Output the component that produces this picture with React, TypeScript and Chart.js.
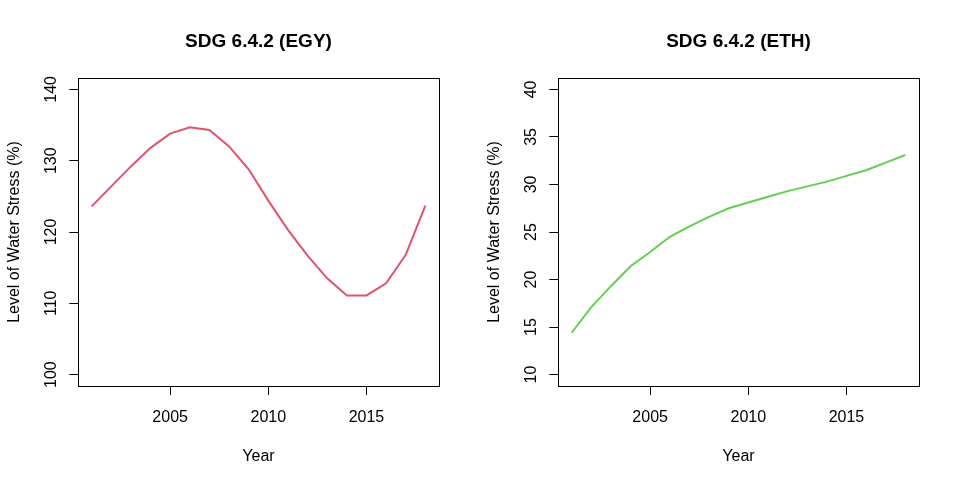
import { useEffect, useRef } from 'react';
import { Chart, registerables } from 'chart.js';

Chart.register(...registerables);

// Water stress by year
const years = [2001, 2002, 2003, 2004, 2005, 2006, 2007, 2008, 2009, 2010, 2011, 2012, 2013, 2014, 2015, 2016, 2017, 2018];
const egyStress = [123.6, 126.4, 129.2, 131.8, 133.8, 134.7, 134.3, 132.0, 128.8, 124.4, 120.3, 116.7, 113.5, 111.1, 111.1, 112.8, 116.8, 123.7];
const ethStress = [14.4, 17.1, 19.3, 21.4, 22.9, 24.5, 25.6, 26.6, 27.5, 28.1, 28.7, 29.3, 29.8, 30.3, 30.9, 31.5, 32.3, 33.1];

const yearTicks = [2005, 2010, 2015];
const egyTicks = [100, 110, 120, 130, 140];
const ethTicks = [10, 15, 20, 25, 30, 35, 40];

const FONT = '"Liberation Sans", Arial, Helvetica, sans-serif';

// R-style axis range: 4% extra at both ends
function padRange(lo: number, hi: number) {
  const d = (hi - lo) * 0.04;
  return { min: lo - d, max: hi + d };
}

const rFrame = {
  id: 'rFrame',
  afterDraw(chart: any, _args: any, opts: any) {
    const { ctx, chartArea: a, scales } = chart;
    const cx = (a.left + a.right) / 2;
    const cy = (a.top + a.bottom) / 2;
    ctx.save();

    // box round the plot region
    ctx.strokeStyle = '#000';
    ctx.lineWidth = 1;
    const l = Math.round(a.left) + 0.5;
    const t = Math.round(a.top) + 0.5;
    const r = Math.round(a.right) + 0.5;
    const b = Math.round(a.bottom) + 0.5;
    ctx.strokeRect(l, t, r - l, b - t);

    ctx.fillStyle = '#000';
    ctx.textBaseline = 'alphabetic';
    ctx.textAlign = 'center';

    // title
    ctx.font = `bold 19px ${FONT}`;
    ctx.fillText(opts.title, cx, 47);

    // x tick labels and axis title
    ctx.font = `16px ${FONT}`;
    for (const v of opts.xTicks) {
      ctx.fillText(String(v), scales.x.getPixelForValue(v), a.bottom + 35.5);
    }
    ctx.fillText('Year', cx, a.bottom + 74.5);

    // y tick labels, rotated like R's las = 0
    for (const v of opts.yTicks) {
      ctx.save();
      ctx.translate(a.left - 22.3, scales.y.getPixelForValue(v));
      ctx.rotate(-Math.PI / 2);
      ctx.fillText(String(v), 0, 0);
      ctx.restore();
    }
    ctx.save();
    ctx.translate(a.left - 59.3, cy);
    ctx.rotate(-Math.PI / 2);
    ctx.fillText('Level of Water Stress (%)', 0, 0);
    ctx.restore();

    ctx.restore();
  },
};

interface PanelProps {
  title: string;
  values: number[];
  color: string;
  yTicks: number[];
  left: number;
  width: number;
}

function Panel({ title, values, color, yTicks, left, width }: PanelProps) {
  const canvasRef = useRef<HTMLCanvasElement>(null);
  const chartRef = useRef<Chart | null>(null);

  useEffect(() => {
    if (!canvasRef.current) return;
    if (chartRef.current) chartRef.current.destroy();

    const xRange = padRange(years[0], years[years.length - 1]);
    const yRange = padRange(yTicks[0], yTicks[yTicks.length - 1]);

    chartRef.current = new Chart(canvasRef.current, {
      type: 'line',
      data: {
        datasets: [
          {
            data: years.map((y, i) => ({ x: y, y: values[i] })),
            borderColor: color,
            borderWidth: 2,
            pointRadius: 0,
            tension: 0,
            fill: false,
          },
        ],
      },
      options: {
        responsive: false,
        animation: false,
        devicePixelRatio: 1,
        layout: { padding: { left: 0, right: width - 438.7, top: 78, bottom: 0 } },
        plugins: {
          legend: { display: false },
          tooltip: { enabled: false },
          // @ts-ignore
          rFrame: { title, xTicks: yearTicks, yTicks },
        },
        scales: {
          x: {
            type: 'linear',
            min: xRange.min,
            max: xRange.max,
            afterBuildTicks: (s: any) => {
              s.ticks = yearTicks.map(v => ({ value: v }));
            },
            afterFit: (s: any) => {
              s.height = 98;
            },
            ticks: { display: false },
            grid: { display: true, drawOnChartArea: false, drawTicks: true, tickLength: 9, color: '#000', lineWidth: 1 },
            border: { display: false },
          },
          y: {
            type: 'linear',
            min: yRange.min,
            max: yRange.max,
            afterBuildTicks: (s: any) => {
              s.ticks = yTicks.map(v => ({ value: v }));
            },
            afterFit: (s: any) => {
              s.width = 78.3;
            },
            ticks: { display: false },
            grid: { display: true, drawOnChartArea: false, drawTicks: true, tickLength: 9, color: '#000', lineWidth: 1 },
            border: { display: false },
          },
        },
      },
      plugins: [rFrame],
    });

    return () => {
      if (chartRef.current) {
        chartRef.current.destroy();
        chartRef.current = null;
      }
    };
  }, [title, values, color, yTicks, width]);

  return (
    <div style={{ position: 'absolute', left, top: 0, width, height: 484 }}>
      <canvas ref={canvasRef} width={width} height={484} style={{ width, height: 484, display: 'block' }} />
    </div>
  );
}

export default function App() {
  return (
    <div style={{ position: 'fixed', left: 0, top: 0, width: 959, height: 484, background: '#fff' }}>
      <Panel title="SDG 6.4.2 (EGY)" values={egyStress} color="#DF536B" yTicks={egyTicks} left={0} width={480} />
      <Panel title="SDG 6.4.2 (ETH)" values={ethStress} color="#61D04F" yTicks={ethTicks} left={480} width={479} />
    </div>
  );
}
